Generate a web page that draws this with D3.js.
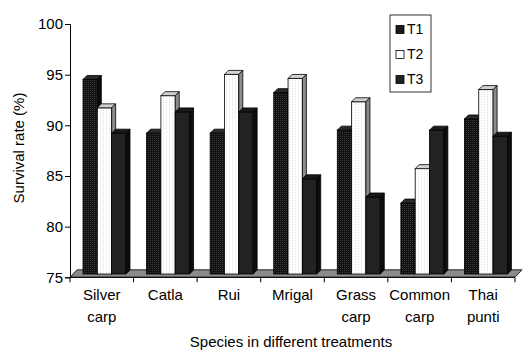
<html>
<head>
<script src="https://d3js.org/d3.v7.min.js"></script>
<style>
  body { margin: 0; background: #fff; }
  text { font-family: "Liberation Sans", Arial, sans-serif; fill: #000; }
</style>
</head>
<body>
<script>
const species = [["Silver", "carp"], ["Catla"], ["Rui"], ["Mrigal"], ["Grass", "carp"], ["Common", "carp"], ["Thai", "punti"]];
const treatments = ["T1", "T2", "T3"];
const t1 = [94.2, 88.9, 88.9, 92.9, 89.2, 82.0, 90.3];
const t2 = [91.4, 92.6, 94.7, 94.3, 92.0, 85.4, 93.2];
const t3 = [88.9, 91.0, 91.0, 84.4, 82.6, 89.2, 88.6];
const yTicks = [75, 80, 85, 90, 95, 100];

const w = 525, h = 350;
const svg = d3.select("body").append("svg").attr("width", w).attr("height", h);

const defs = svg.append("defs");
const p1 = defs.append("pattern").attr("id", "pat1").attr("width", 2).attr("height", 2).attr("patternUnits", "userSpaceOnUse");
p1.append("rect").attr("width", 2).attr("height", 2).attr("fill", "#111");
p1.append("rect").attr("width", 1).attr("height", 1).attr("fill", "#3a3a3a");
const p2 = defs.append("pattern").attr("id", "pat2").attr("width", 3).attr("height", 2).attr("patternUnits", "userSpaceOnUse");
p2.append("rect").attr("width", 3).attr("height", 2).attr("fill", "#fff");
p2.append("rect").attr("x", 1).attr("width", 1).attr("height", 1).attr("fill", "#e4e4e4");

const styles = {
  T1: { front: "url(#pat1)", top: "#2a2a2a", side: "#0a0a0a" },
  T2: { front: "url(#pat2)", top: "#d0d0d0", side: "#8c8c8c" },
  T3: { front: "#222", top: "#1a1a1a", side: "#0d0d0d" }
};

const x = d3.scaleBand().domain(species.map(d => d.join(" "))).range([70, 515]);
const xs = d3.scaleBand().domain(treatments).range([13, 56]);
const y = d3.scaleLinear().domain([75, 100]).range([277.3, 24]);

// 3d offsets
const sx = 0, sy = 3.3, dx = 4, dy = 4;

// floor
const floorBack = 7.5, floorX = 7;
svg.append("path")
  .attr("d", `M70,${y(75)} L515,${y(75)} L${515 + floorX},${y(75) - floorBack} L${70 + floorX},${y(75) - floorBack} Z`)
  .attr("fill", "#8a8a8a").attr("stroke", "#000").attr("stroke-width", 0.8);

const rows = [];
species.forEach((s, i) => {
  [t1, t2, t3].forEach((arr, j) => rows.push({ sp: s.join(" "), tr: treatments[j], v: arr[i] }));
});

const bars = svg.append("g").selectAll("g").data(rows).enter().append("g");
bars.each(function (d) {
  const g = d3.select(this);
  const x0 = x(d.sp) + xs(d.tr) + sx;
  const bw = xs.bandwidth();
  const yT = y(d.v) - sy;
  const yB = y(75) - sy;
  const st = styles[d.tr];
  g.append("rect").attr("x", x0).attr("y", yT).attr("width", bw).attr("height", yB - yT)
    .attr("fill", st.front).attr("stroke", "#000").attr("stroke-width", 0.8);
  g.append("path")
    .attr("d", `M${x0},${yT} L${x0 + dx},${yT - dy} L${x0 + bw + dx},${yT - dy} L${x0 + bw},${yT} Z`)
    .attr("fill", st.top).attr("stroke", "#000").attr("stroke-width", 0.8);
  g.append("path")
    .attr("d", `M${x0 + bw},${yT} L${x0 + bw + dx},${yT - dy} L${x0 + bw + dx},${yB - dy} L${x0 + bw},${yB} Z`)
    .attr("fill", st.side).attr("stroke", "#000").attr("stroke-width", 0.8);
});

// y axis
const yAxis = svg.append("g").attr("transform", "translate(70,0)")
  .call(d3.axisLeft(y).tickValues(yTicks).tickSize(5).tickPadding(2));
yAxis.selectAll("text").style("font-size", "15px").attr("font-family", "Liberation Sans, Arial, sans-serif");
yAxis.select(".domain").attr("stroke", "#000");

// x axis
const xAxis = svg.append("g").attr("transform", `translate(0,${y(75)})`);
xAxis.append("line").attr("x1", 70).attr("x2", 515).attr("stroke", "#000");
xAxis.selectAll(".tk").data(species.map(d => d.join(" ")).concat(["end"])).enter().append("line")
  .attr("x1", (d, i) => i < species.length ? x(d) : 515)
  .attr("x2", (d, i) => i < species.length ? x(d) : 515)
  .attr("y1", 0).attr("y2", 5).attr("stroke", "#000");

species.forEach(s => {
  const t = svg.append("text").attr("text-anchor", "middle").style("font-size", "15px");
  s.forEach((line, k) => {
    t.append("tspan").attr("x", x(s.join(" ")) + x.bandwidth() / 2).attr("y", 300 + k * 21.5).text(line);
  });
});

// titles
svg.append("text").attr("x", 291).attr("y", 347).attr("text-anchor", "middle")
  .style("font-size", "15px").text("Species in different treatments");
svg.append("text").attr("transform", "translate(24,148) rotate(-90)").attr("text-anchor", "middle")
  .style("font-size", "15px").text("Survival rate (%)");

// legend
const legend = svg.append("g").attr("transform", "translate(390,15)");
legend.append("rect").attr("width", 41).attr("height", 77).attr("fill", "#fff").attr("stroke", "#000").attr("stroke-width", 0.8);
treatments.forEach((t, i) => {
  legend.append("rect").attr("x", 6).attr("y", 10.5 + i * 25).attr("width", 8).attr("height", 8)
    .attr("fill", t === "T2" ? "#fff" : (t === "T1" ? "#1a1a1a" : "#222")).attr("stroke", "#000").attr("stroke-width", 0.8);
  legend.append("text").attr("x", 17).attr("y", 18.5 + i * 25).style("font-size", "14px").text(t);
});
</script>
</body>
</html>
